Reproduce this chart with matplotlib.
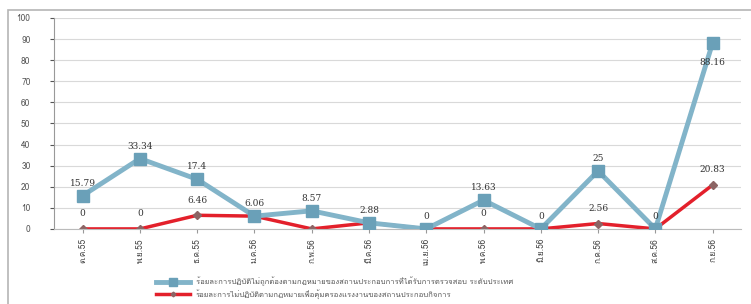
import matplotlib
matplotlib.use("Agg")
import matplotlib.pyplot as plt
from matplotlib import font_manager
from matplotlib.ft2font import FT2Font
from matplotlib.patches import Rectangle

# pick any installed font that has Thai glyphs, fall back to DejaVu
thai_fonts = []
for fe in font_manager.fontManager.ttflist:
    try:
        if 0x0E01 in FT2Font(fe.fname).get_charmap():
            if fe.name not in thai_fonts:
                thai_fonts.append(fe.name)
    except Exception:
        pass
plt.rcParams['font.family'] = thai_fonts[:1] + ['DejaVu Sans']

months = ['ต.ค.55', 'พ.ย.55', 'ธ.ค.55', 'ม.ค.56', 'ก.พ.56', 'มี.ค.56',
          'เม.ย.56', 'พ.ค.56', 'มิ.ย.56', 'ก.ค.56', 'ส.ค.56', 'ก.ย.56']
blue_vals = [15.79, 33.34, 23.5, 6.06, 8.57, 2.88, 0, 13.63, 0, 27.5, 0, 88.16]
blue_labels = ['15.79', '33.34', '17.4', '6.06', '8.57', '2.88', '0', '13.63', '0', '25', '0', '88.16']
red_vals = [0, 0, 6.46, 6.06, 0, 2.88, 0, 0, 0, 2.56, 0, 20.83]
red_labels = ['0', '0', '6.46', '', '', '', '', '0', '', '2.56', '', '20.83']
blue_name = 'ร้อยละการปฏิบัติไม่ถูกต้องตามกฎหมายของสถานประกอบการที่ได้รับการตรวจสอบ ระดับประเทศ'
red_name = 'ร้อยละการไม่ปฏิบัติตามกฎหมายเพื่อคุ้มครองแรงงานของสถานประกอบกิจการ'

fig = plt.figure(figsize=(7.51, 3.04), dpi=100)
fig.patches.append(Rectangle((0.011, -0.01), 1.0, 0.977, transform=fig.transFigure,
                             fill=False, edgecolor='#b5b5b5', linewidth=1.2))
ax = fig.add_axes([0.072, 0.247, 0.915, 0.694])

x = range(len(months))
ax.plot(x, blue_vals, color='#82b4c9', lw=3.5, marker='s', ms=8.5,
        mfc='#6aa0b8', mec='#6aa0b8', label=blue_name, zorder=3)
ax.plot(x, red_vals, color='#e3202b', lw=2.5, marker='D', ms=4,
        mfc='#8c6464', mec='#8c6464', label=red_name, zorder=2)

for i in x:
    dy = -14 if i == len(months) - 1 else 9
    ax.annotate(blue_labels[i], (i, blue_vals[i]), xytext=(0, dy), textcoords='offset points',
                ha='center', va='center', fontsize=6.5, family='DejaVu Serif', color='#333333')
    if red_labels[i]:
        ax.annotate(red_labels[i], (i, red_vals[i]), xytext=(0, 11), textcoords='offset points',
                    ha='center', va='center', fontsize=6.5, family='DejaVu Serif', color='#333333')

ax.set_xlim(-0.5, len(months) - 0.5)
ax.set_ylim(0, 100)
ax.set_yticks(range(0, 101, 10))
ax.set_xticks(list(x))
ax.set_xticklabels(months, rotation=90, fontsize=6, color='#444444')
ax.tick_params(axis='y', labelsize=6, colors='#555555', length=3, pad=14)
ax.tick_params(axis='x', length=3, colors='#999999', labelcolor='#444444')
ax.grid(axis='y', color='#d9d9d9', lw=0.8)
ax.set_axisbelow(True)
for s in ['top', 'right']:
    ax.spines[s].set_visible(False)
ax.spines['left'].set_color('#999999')
ax.spines['bottom'].set_color('#bbbbbb')

fig.legend(loc='lower left', bbox_to_anchor=(0.2, 0.0), frameon=False, fontsize=5.5,
           handlelength=4.5, labelspacing=0.3, borderaxespad=0.3, markerscale=0.6,
           labelcolor='#555555')

fig.savefig('out.png', dpi=100)
